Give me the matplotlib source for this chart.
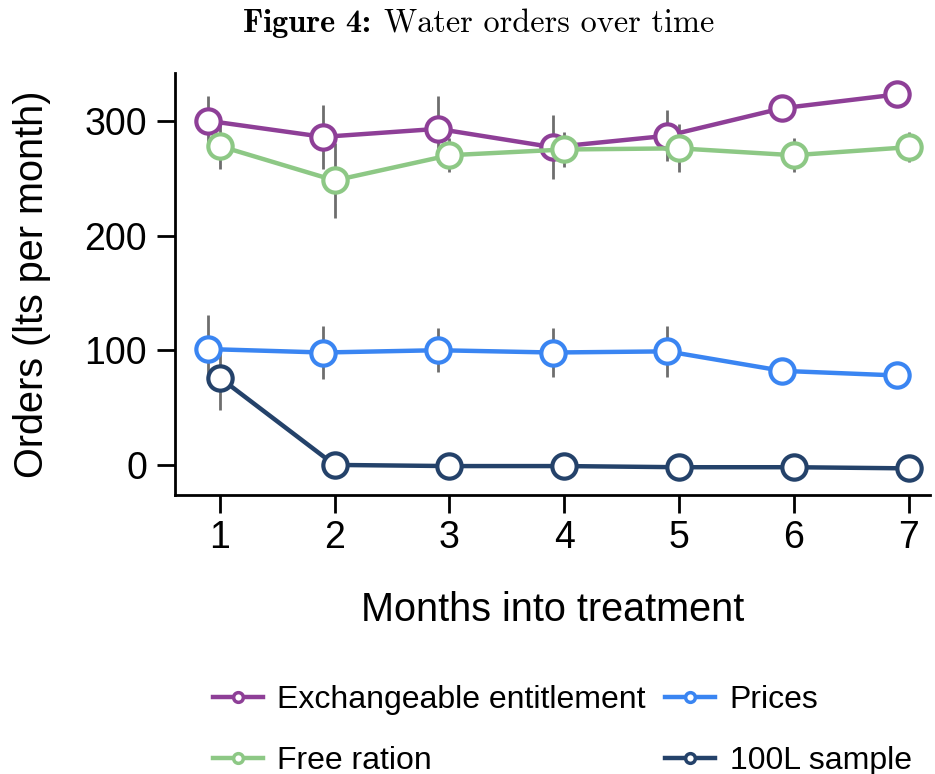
import matplotlib
matplotlib.use("Agg")
import matplotlib.pyplot as plt
import numpy as np

plt.rcParams['font.family'] = ['Liberation Sans', 'DejaVu Sans']

months = [1, 2, 3, 4, 5, 6, 7]

exchangeable = [300, 286, 293, 277, 287, 311, 323]
exchangeable_err = [22, 28, 29, 28, 22, 8, 8]

free_ration = [278, 248, 270, 275, 276, 270, 277]
free_ration_err = [20, 33, 15, 15, 21, 15, 13]

prices = [101, 98, 100, 98, 99, 82, 78]
prices_err = [30, 23, 19, 21, 22, 5, 5]

sample_100l = [76, 0, -1, -1, -2, -2, -3]
sample_100l_err = [28, 2, 2, 2, 2, 2, 2]

labels = ["Exchangeable entitlement", "Free ration", "Prices", "100L sample"]
colors = ["#8E3F97", "#8DC885", "#3A85F2", "#24426A"]
offsets = [-0.1, 0.0, -0.1, 0.0]
values = [exchangeable, free_ration, prices, sample_100l]
errors = [exchangeable_err, free_ration_err, prices_err, sample_100l_err]

fig = plt.figure(figsize=(9.35, 7.74), dpi=100)
ax = fig.add_axes([0.187, 0.3605, 0.808, 0.5455])

# confidence intervals underneath the series
for vals, errs, off in zip(values, errors, offsets):
    x = np.array(months) + off
    ax.errorbar(x, vals, yerr=errs, fmt='none', ecolor='#6E6E6E',
                elinewidth=2.0, capsize=0, zorder=1)
for vals, col, off, lab in zip(values, colors, offsets, labels):
    x = np.array(months) + off
    ax.plot(x, vals, color=col, lw=3.2, marker='o', ms=17.5,
            mfc='white', mec=col, mew=3.0, zorder=3, label=lab)

ax.set_xlim(0.608, 7.19)
ax.set_ylim(-26.2, 341.9)
ax.set_xticks(months)
ax.set_yticks([0, 100, 200, 300])
ax.spines['top'].set_visible(False)
ax.spines['right'].set_visible(False)
ax.spines['left'].set_linewidth(2.0)
ax.spines['bottom'].set_linewidth(2.0)
ax.tick_params(axis='both', labelsize=27, length=13, width=2.0, direction='out', pad=5)
ax.tick_params(axis='y', pad=7)
ax.set_xlabel("Months into treatment", fontsize=28.5, labelpad=25)
ax.set_ylabel("Orders (lts per month)", fontsize=28.5, labelpad=24)

# title: bold label followed by regular caption, Computer Modern
fig.canvas.draw()
renderer = fig.canvas.get_renderer()
t1 = fig.text(0, 0.969, "Figure 4:", fontfamily='cmb10', fontsize=23.3, va='center', ha='left')
t2 = fig.text(0, 0.969, "Water orders over time", fontfamily='cmr10', fontsize=23.3,
              va='center', ha='left')
w1 = t1.get_window_extent(renderer).width
w2 = t2.get_window_extent(renderer).width
gap = 13
start = 479 - (w1 + gap + w2) / 2
t1.set_x(start / 935)
t2.set_x((start + w1 + gap) / 935)

legend_handles = []
for col, lab in zip(colors, labels):
    lh, = ax.plot([], [], color=col, lw=3.2, marker='o', ms=7, mfc='white',
                  mec=col, mew=2.5, label=lab)
    legend_handles.append(lh)
fig.legend(handles=legend_handles, labels=labels, loc='upper left',
           bbox_to_anchor=(0.214, 0.131), ncol=2, frameon=False, fontsize=23,
           handlelength=1.56, columnspacing=0.62, labelspacing=0.95, handletextpad=0.45,
           borderaxespad=0)

fig.savefig("out.png", dpi=100)
